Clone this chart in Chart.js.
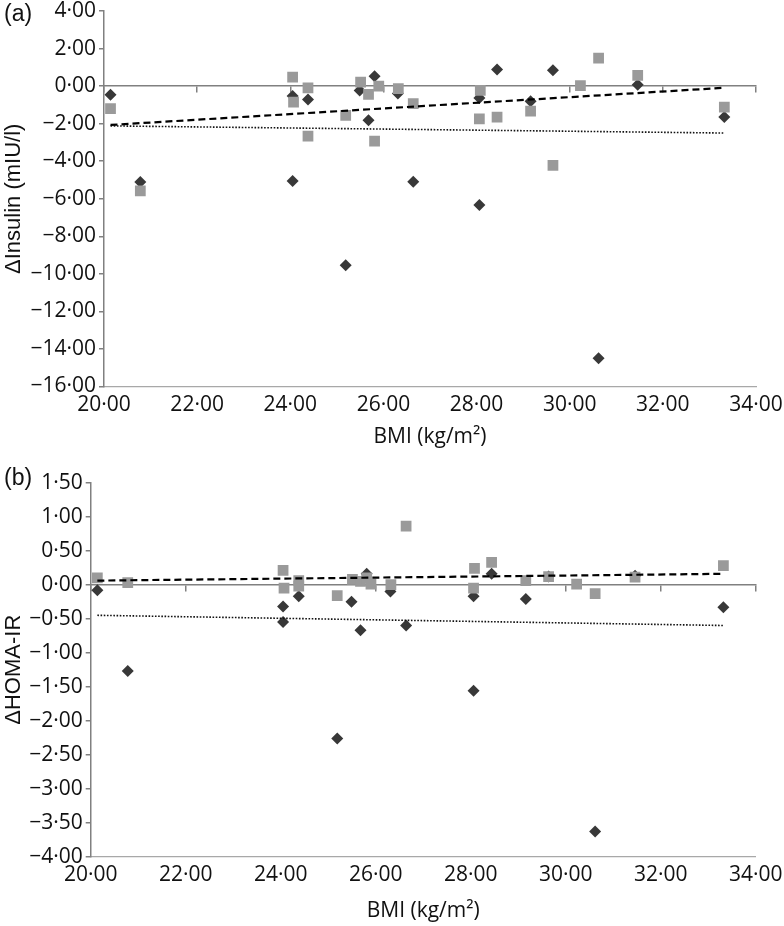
<!DOCTYPE html>
<html>
<head>
<meta charset="utf-8">
<script src="https://cdn.jsdelivr.net/npm/chart.js@4.4.1/dist/chart.umd.min.js"></script>
<style>
html,body{margin:0;padding:0;background:#fff;}
#wrap{position:relative;width:784px;height:926px;overflow:hidden;background:#fff;}
canvas{position:absolute;left:0;}
.tag{position:absolute;left:4px;font-family:"Liberation Sans",Arial,sans-serif;font-size:23px;line-height:23px;color:#111;}
</style>
</head>
<body>
<div id="wrap">
  <canvas id="ca" width="784" height="460" style="top:0"></canvas>
  <canvas id="cb" width="784" height="466" style="top:460px"></canvas>
  <div class="tag" style="top:2px">(a)</div>
  <div class="tag" style="top:466px">(b)</div>
</div>
<script>
// ---- data ----
const bmiDiamond = [20.14, 20.78, 24.05, 24.05, 24.38, 25.19, 25.49, 25.68, 25.81, 26.31, 26.64, 28.06, 28.06, 28.44, 29.16, 29.64, 30.62, 31.46, 33.32];
const bmiSquare  = [20.14, 20.78, 24.05, 24.07, 24.38, 24.38, 25.19, 25.51, 25.68, 25.81, 25.90, 26.32, 26.64, 28.08, 28.06, 28.44, 29.16, 29.64, 30.23, 30.62, 31.46, 33.32];

const insulinDiamond = [-0.46, -5.11, -0.53, -5.05, -0.71, -9.54, -0.23, -1.82, 0.52, -0.40, -5.10, -0.64, -6.33, 0.89, -0.81, 0.84, -14.50, 0.07, -1.65];
const insulinSquare  = [-1.20, -5.58, 0.48, -0.85, -0.09, -2.66, -1.56, 0.21, -0.44, -2.93, 0.00, -0.14, -0.94, -0.23, -1.74, -1.65, -1.33, -4.22, 0.02, 1.49, 0.57, -1.12];

const homaDiamond = [-0.08, -1.27, -0.32, -0.55, -0.17, -2.26, -0.25, -0.67, 0.16, -0.10, -0.60, -0.17, -1.56, 0.16, -0.21, 0.12, -3.63, 0.13, -0.33];
const homaSquare  = [0.10, 0.03, 0.21, -0.05, 0.06, -0.02, -0.16, 0.08, 0.05, 0.10, 0.01, 0.00, 0.86, 0.24, -0.05, 0.33, 0.06, 0.12, 0.01, -0.13, 0.11, 0.28];

// trend lines: values at the first and last BMI
const trendBmi = [20.14, 33.32];
const insulinTrendDashed = [-2.07, -0.09];
const insulinTrendDotted = [-2.12, -2.50];
const homaTrendDashed = [0.06, 0.16];
const homaTrendDotted = [-0.45, -0.60];

// tick values
const bmiTicks = [20, 22, 24, 26, 28, 30, 32, 34];
const insulinTicks = [4, 2, 0, -2, -4, -6, -8, -10, -12, -14, -16];
const homaTicks = [1.5, 1, 0.5, 0, -0.5, -1, -1.5, -2, -2.5, -3, -3.5, -4];

// ---- helpers ----
const fmt = v => { const s = Math.abs(v).toFixed(2).replace('.', '\u00B7'); return (v < -1e-9 ? '\u2212' : '') + s; };
const pts = (xs, ys) => xs.map((x, i) => ({x: x, y: ys[i]}));
const tickFont = {family: '"Open Sans", sans-serif', size: 21, lineHeight: 1};
const AXIS = '#808080';

function build(canvasId, p) {
  const yT = p.yTicks;
  new Chart(document.getElementById(canvasId), {
    type: 'scatter',
    data: {
      datasets: [
        {data: pts(trendBmi, p.dashed), showLine: true, borderColor: '#000', borderWidth: 2.2, borderDash: [7, 4], pointRadius: 0, order: 0},
        {data: pts(trendBmi, p.dotted), showLine: true, borderColor: '#111', borderWidth: 1.6, borderDash: [1.6, 1.6], pointRadius: 0, order: 0},
        {data: pts(bmiSquare, p.sq), pointStyle: 'rect', pointRadius: 7.6, backgroundColor: '#9a9a9a', borderColor: '#9a9a9a', borderWidth: 0, order: 1},
        {data: pts(bmiDiamond, p.di), pointStyle: 'rectRot', pointRadius: 6, backgroundColor: '#383838', borderColor: '#383838', borderWidth: 0, order: 2}
      ]
    },
    options: {
      responsive: false,
      animation: false,
      events: [],
      layout: {padding: {left: 0, right: p.padRight, top: p.padTop, bottom: 0}},
      plugins: {legend: {display: false}, tooltip: {enabled: false}},
      scales: {
        x: {
          type: 'linear', position: 'bottom', min: 20, max: 34,
          afterBuildTicks: s => { s.ticks = bmiTicks.map(v => ({value: v})); },
          ticks: {callback: fmt, font: tickFont, color: '#111', padding: 8, maxRotation: 0, autoSkip: false},
          grid: {drawOnChartArea: false, drawTicks: false},
          border: {display: true, color: '#a8a8a8', width: 1.2, dash: [1.5, 1.5]},
          title: {display: true, text: 'BMI (kg/m\u00B2)', color: '#111',
                  font: {family: '"Open Sans", sans-serif', size: 21, lineHeight: 1.2},
                  padding: {top: 0, bottom: p.xTitlePad}},
          afterFit: s => { s.height = p.xHeight; s.paddingLeft = 0; s.paddingRight = 0; }
        },
        x0: {
          type: 'linear', axis: 'x', position: {y: 0}, min: 20, max: 34,
          afterBuildTicks: s => { s.ticks = bmiTicks.map(v => ({value: v})); },
          ticks: {display: false},
          grid: {drawOnChartArea: false, drawTicks: true, tickLength: 6, color: AXIS, lineWidth: 1.5},
          border: {display: true, color: AXIS, width: 1.5},
          afterFit: s => { s.paddingLeft = 0; s.paddingRight = 0; s.paddingTop = 0; s.paddingBottom = 0; }
        },
        y: {
          type: 'linear', position: 'left', min: yT[yT.length - 1], max: yT[0],
          afterBuildTicks: s => { s.ticks = yT.map(v => ({value: v})); },
          ticks: {callback: fmt, font: tickFont, color: '#111', padding: 3},
          grid: {drawOnChartArea: false, drawTicks: true, tickLength: 5, color: AXIS, lineWidth: 1.5},
          border: {display: true, color: AXIS, width: 1.5},
          title: {display: true, text: p.yTitle, color: '#111',
                  font: {family: '"Liberation Sans", Arial, sans-serif', size: 22, lineHeight: 1.2},
                  padding: {top: 1, bottom: 0}},
          afterFit: s => { s.width = p.yWidth; s.paddingTop = 0; s.paddingBottom = 0; }
        }
      }
    }
  });
}

build('ca', {
  di: insulinDiamond, sq: insulinSquare, dashed: insulinTrendDashed, dotted: insulinTrendDotted,
  yTicks: insulinTicks, yTitle: '\u0394Insulin (mIU/l)',
  yWidth: 104, padTop: 11, padRight: 28, xHeight: 73.5, xTitlePad: 10
});
build('cb', {
  di: homaDiamond, sq: homaSquare, dashed: homaTrendDashed, dotted: homaTrendDotted,
  yTicks: homaTicks, yTitle: '\u0394HOMA-IR',
  yWidth: 90.7, padTop: 22.7, padRight: 28.3, xHeight: 69.3, xTitlePad: 2
});
</script>
</body>
</html>
